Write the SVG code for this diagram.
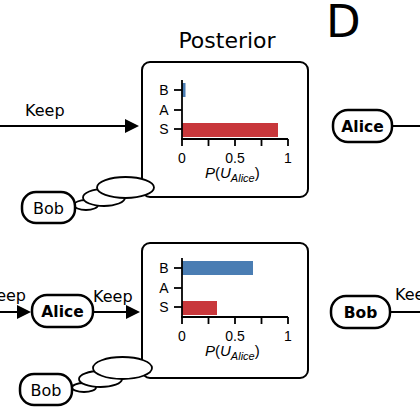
<svg xmlns="http://www.w3.org/2000/svg" width="420" height="420" viewBox="0 0 420 420">
<style>
.node{fill:#fff;stroke:#000;stroke-width:2.5}
.lbl{font-family:"DejaVu Sans",sans-serif;font-size:16px;fill:#000}
.bold{font-family:"DejaVu Sans",sans-serif;font-size:15.5px;font-weight:bold;fill:#000;text-anchor:middle}
.conn{stroke:#000;stroke-width:2;fill:none}
.panel{fill:#fff;stroke:#000;stroke-width:2}
.ax{stroke:#000;stroke-width:1.8;fill:none}
.cat{font-family:"Liberation Sans",Arial,sans-serif;font-size:14px;text-anchor:middle;fill:#000}
.tk{font-family:"Liberation Sans",Arial,sans-serif;font-size:14px;text-anchor:middle;fill:#000}
.pl{font-family:"Liberation Sans",Arial,sans-serif;font-size:15px;fill:#000}
.bub{fill:#fff;stroke:#000;stroke-width:1.8}
.blue{fill:#4a7db3}
.red{fill:#c8373b}
</style>
<defs>
<marker id="arr" markerUnits="userSpaceOnUse" viewBox="0 0 14 14" refX="4" refY="7" markerWidth="14" markerHeight="14" orient="auto">
<path d="M0,0 L14,7 L0,14 z" fill="#000"/>
</marker>
<g id="chartAxes">
<line class="ax" x1="182" y1="80" x2="182" y2="146"/>
<line class="ax" x1="181" y1="139" x2="288" y2="139"/>
<line class="ax" x1="208.5" y1="139" x2="208.5" y2="146"/>
<line class="ax" x1="235" y1="139" x2="235" y2="146"/>
<line class="ax" x1="261.5" y1="139" x2="261.5" y2="146"/>
<line class="ax" x1="288" y1="139" x2="288" y2="146"/>
<line class="ax" x1="174" y1="90" x2="182" y2="90"/>
<line class="ax" x1="174" y1="110" x2="182" y2="110"/>
<line class="ax" x1="174" y1="129" x2="182" y2="129"/>
<text class="cat" x="164" y="95">B</text>
<text class="cat" x="164" y="115">A</text>
<text class="cat" x="164" y="134">S</text>
<text class="tk" x="182" y="162.5">0</text>
<text class="tk" x="235" y="162.5">0.5</text>
<text class="tk" x="288" y="162.5">1</text>
<text class="pl" x="205" y="178"><tspan font-style="italic">P</tspan>(<tspan font-style="italic">U</tspan><tspan font-style="italic" font-size="11" dy="4">Alice</tspan><tspan dy="-4">)</tspan></text>
</g>
</defs>

<text x="227" y="48" font-family="DejaVu Sans, sans-serif" font-size="22" text-anchor="middle">Posterior</text>
<text x="326" y="37" font-family="DejaVu Sans, sans-serif" font-size="45">D</text>

<g id="connectors">
<line class="conn" x1="0" y1="126" x2="129" y2="126" marker-end="url(#arr)"/>
<text class="lbl" x="25" y="116">Keep</text>
<line class="conn" x1="392" y1="126" x2="420" y2="126"/>
<line class="conn" x1="0" y1="312" x2="21" y2="312" marker-end="url(#arr)"/>
<text class="lbl" x="26" y="301" text-anchor="end">Keep</text>
<line class="conn" x1="93" y1="312" x2="130" y2="312" marker-end="url(#arr)"/>
<text class="lbl" x="93" y="302">Keep</text>
<line class="conn" x1="390" y1="312" x2="420" y2="312"/>
<text class="lbl" x="395" y="300">Keep</text>
</g>

<g id="posterior-top">
<rect class="panel" x="142" y="62" width="166" height="135" rx="8"/>
<rect class="blue" x="182" y="83" width="3.5" height="14"/>
<rect class="red" x="182" y="123" width="96" height="14"/>
<use href="#chartAxes"/>
</g>

<g id="posterior-bottom">
<rect class="panel" x="142" y="243" width="166" height="135" rx="8"/>
<rect class="blue" x="182" y="261" width="71" height="14"/>
<rect class="red" x="182" y="301" width="35" height="14"/>
<use href="#chartAxes" transform="translate(0,178)"/>
</g>

<g id="thought-top">
<ellipse class="bub" cx="86" cy="205" rx="12" ry="5"/>
<ellipse class="bub" cx="104" cy="197.5" rx="21" ry="8.5"/>
<ellipse class="bub" cx="125.5" cy="187.5" rx="28.5" ry="10.5"/>
</g>
<g id="thought-bottom">
<ellipse class="bub" cx="84" cy="387.5" rx="12" ry="4.5"/>
<ellipse class="bub" cx="100.5" cy="379" rx="21.5" ry="8"/>
<ellipse class="bub" cx="122.5" cy="368" rx="29.5" ry="11"/>
</g>

<g id="bob-top">
<rect class="node" x="22" y="192" width="53" height="31" rx="14"/>
<text class="lbl" x="48.5" y="213.5" text-anchor="middle">Bob</text>
</g>
<g id="bob-bottom-left">
<rect class="node" x="20" y="374" width="52" height="31" rx="14"/>
<text class="lbl" x="46" y="395.5" text-anchor="middle">Bob</text>
</g>
<g id="alice-top-right">
<rect class="node" x="333" y="110" width="59" height="32" rx="15"/>
<text class="bold" x="362.5" y="131.5">Alice</text>
</g>
<g id="alice-bottom">
<rect class="node" x="32" y="295" width="61" height="32" rx="15"/>
<text class="bold" x="62.5" y="316.5">Alice</text>
</g>
<g id="bob-bottom-right">
<rect class="node" x="331" y="296" width="59" height="32" rx="15"/>
<text class="bold" x="360.5" y="317.5">Bob</text>
</g>
</svg>
